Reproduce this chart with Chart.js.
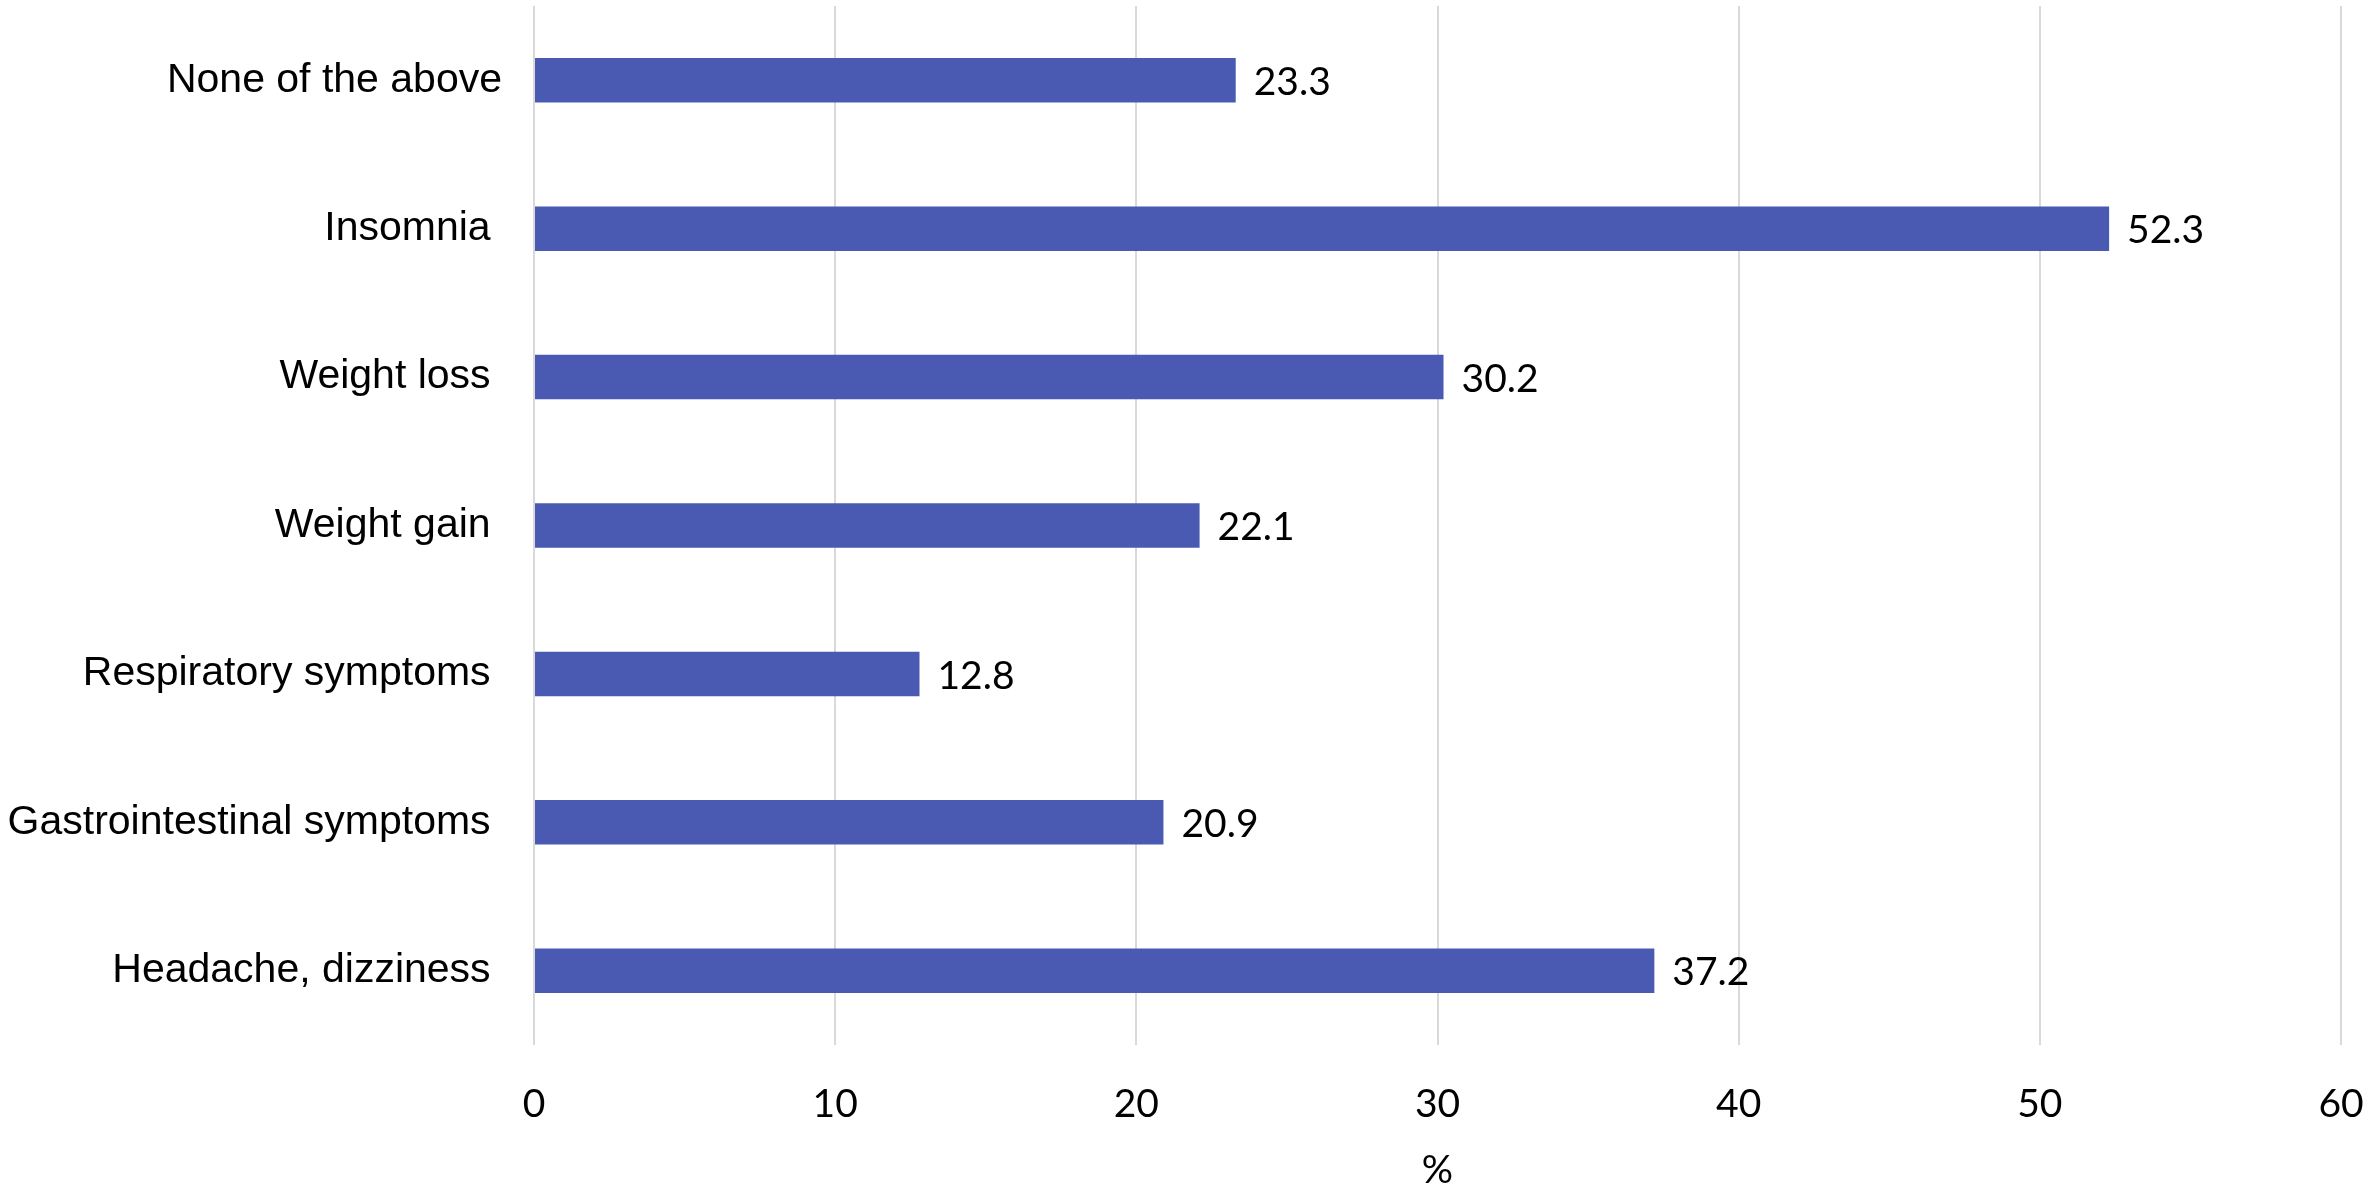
<!DOCTYPE html>
<html>
<head>
<meta charset="utf-8">
<script src="https://cdn.jsdelivr.net/npm/chart.js@4"></script>
<style>
  html, body { margin: 0; padding: 0; background: #fff; }
  canvas { display: block; }
</style>
</head>
<body>
<canvas id="symptoms-chart" width="2371" height="1188"></canvas>
<script>
// categories, top to bottom
const categories = [
  "None of the above",
  "Insomnia ",
  "Weight loss ",
  "Weight gain ",
  "Respiratory symptoms ",
  "Gastrointestinal symptoms ",
  "Headache, dizziness "
];
const percentValues = [23.3, 52.3, 30.2, 22.1, 12.8, 20.9, 37.2];
const xTicks = [0, 10, 20, 30, 40, 50, 60];

const barColor = "#4a5ab3";
const numFont = "Lato, 'Open Sans', sans-serif";
const labelFont = "'Liberation Sans', Arial, sans-serif";

// values printed at the end of each bar
const valueLabels = {
  id: "valueLabels",
  afterDatasetsDraw(chart) {
    const ctx = chart.ctx;
    const meta = chart.getDatasetMeta(0);
    ctx.save();
    ctx.font = "39px " + numFont;
    ctx.fillStyle = "#000";
    ctx.textAlign = "left";
    ctx.textBaseline = "middle";
    meta.data.forEach(function(bar, i) {
      ctx.fillText(percentValues[i].toFixed(1), bar.x + 18, bar.y + 2);
    });
    ctx.restore();
  }
};

// keep the plot area where the original has it
function noEdgePadding(scale) {
  scale.paddingTop = 0;
  scale.paddingBottom = 0;
  scale.paddingLeft = 0;
  scale.paddingRight = 0;
}

new Chart(document.getElementById("symptoms-chart"), {
  type: "bar",
  data: {
    labels: categories,
    datasets: [{
      data: percentValues,
      backgroundColor: barColor,
      barPercentage: 0.3,
      categoryPercentage: 1
    }]
  },
  options: {
    indexAxis: "y",
    responsive: false,
    animation: false,
    layout: { padding: { top: 6, right: 30, bottom: 0, left: 0 } },
    plugins: {
      legend: { display: false },
      tooltip: { enabled: false }
    },
    scales: {
      x: {
        min: 0,
        max: 60,
        afterBuildTicks: function(scale) {
          scale.ticks = xTicks.map(v => ({ value: v }));
        },
        afterFit: function(scale) {
          scale.height = 143;
          noEdgePadding(scale);
        },
        grid: { color: "#d9d9d9", lineWidth: 2, drawTicks: false },
        border: { display: false },
        ticks: {
          color: "#000",
          padding: 36,
          font: { family: numFont, size: 39 }
        },
        title: {
          display: true,
          text: "%",
          color: "#000",
          padding: 0,
          font: { family: numFont, size: 39, lineHeight: 0.9 }
        }
      },
      y: {
        afterFit: function(scale) {
          scale.width = 534;
          noEdgePadding(scale);
        },
        grid: { display: false, drawTicks: false },
        border: { display: false },
        ticks: {
          color: "#000",
          padding: 32,
          font: { family: labelFont, size: 41 }
        }
      }
    }
  },
  plugins: [valueLabels]
});
</script>
</body>
</html>
